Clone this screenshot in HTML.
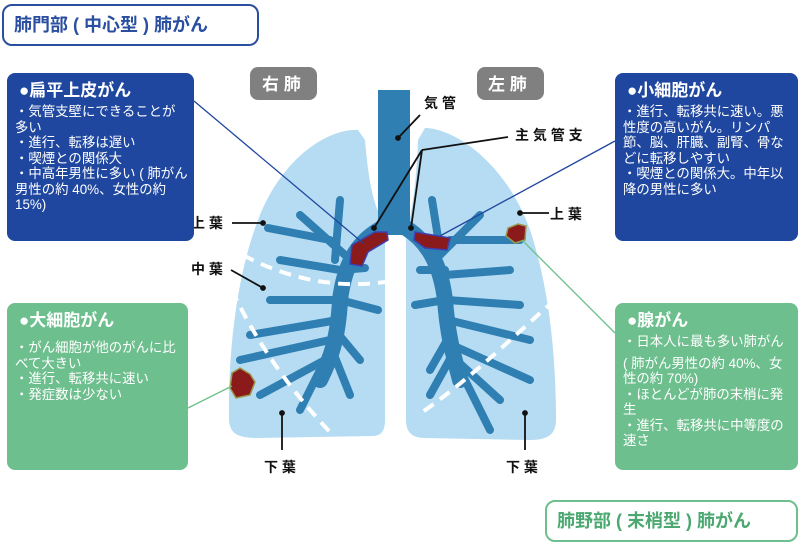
<!DOCTYPE html>
<html><head><meta charset="utf-8"><style>
body{margin:0;width:804px;height:545px;background:#fff;overflow:hidden;font-family:"Liberation Sans","Noto Sans CJK JP",sans-serif;position:relative}
.box{position:absolute;border-radius:8px;color:#fff;font-size:13.4px;line-height:15.5px;padding:8px 6px 8px 8px;box-sizing:border-box}
.box h3{margin:0 0 3px 4px;font-size:17px;line-height:20px}
.blue{background:#1f47a0}
.green{background:#6dbf8e}
.title{position:absolute;background:#fff;border-radius:10px;font-size:18px;font-weight:bold;box-sizing:border-box;padding-left:10px}
svg{position:absolute;left:0;top:0}
</style></head><body>
<div class="title" style="left:2px;top:4px;width:257px;height:42px;border:2px solid #2a4fa0;color:#2a4fa0;line-height:38px">肺門部 ( 中心型 ) 肺がん</div>
<div class="title" style="left:545px;top:500px;width:253px;height:42px;border:2px solid #6dbf8e;color:#4aa870;line-height:38px">肺野部 ( 末梢型 ) 肺がん</div>

<svg width="804" height="545" viewBox="0 0 804 545">
<g fill="#808080"><rect x="250" y="67" width="67" height="33" rx="8"/><rect x="477" y="67" width="67" height="33" rx="8"/></g>
<g fill="#fff" font-size="17" font-weight="bold" font-family="Liberation Sans,Noto Sans CJK JP,sans-serif"><text x="262" y="90">右 肺</text><text x="488" y="90">左 肺</text></g>
<path d="M358,130 C335,128 285,150 258,220 C235,280 228,360 229,420 C230,434 238,438 258,438 L372,436 C382,436 385,430 385,420 L385,225 C372,205 368,175 365,140 Z" fill="#b5dcf2"/>
<path d="M425,128 C452,128 505,160 530,230 C550,290 556,360 556,420 C556,434 548,440 530,440 L425,438 C410,438 406,430 406,420 L406,235 C414,205 417,170 418,140 Z" fill="#b5dcf2"/>
<rect x="378" y="90" width="32" height="145" fill="#2f7fb3"/>
<g stroke="#2f7fb3" fill="none" stroke-linecap="round">
<path d="M382,228 C360,240 345,260 340,300 C338,340 330,360 320,380" stroke-width="16"/>
<path d="M406,228 C425,240 440,260 445,300 C448,340 455,360 460,380" stroke-width="16"/>
<g stroke-width="8">
<path d="M345,255 L300,215 M330,240 L268,228 M340,270 L280,260 M335,300 L270,300 M338,320 L250,335 M330,340 L240,360 M325,360 L260,395 M335,330 L360,360 M340,300 L378,310 M340,270 L365,268 M335,260 L340,200 M320,370 L300,410 M330,345 L350,395"/>
<path d="M440,255 L480,215 M450,240 L520,240 M445,275 L510,270 M447,300 L520,305 M448,320 L530,340 M452,345 L530,380 M456,360 L500,400 M450,335 L430,370 M445,300 L415,305 M445,270 L420,270 M440,250 L432,200 M460,370 L490,430 M455,350 L430,395"/>
</g></g>
<g stroke="#fff" stroke-width="4" stroke-dasharray="12 8" fill="none">
<path d="M243,255 C280,275 330,290 385,282"/>
<path d="M232,290 C255,340 290,390 330,432"/>
<path d="M555,300 C520,330 470,380 418,415"/>
</g>
<path d="M352,245 L375,232 L387,232 L388,240 L368,252 L362,266 L350,264 Z" fill="#8b1a1a" stroke="#3f3fb0" stroke-width="1.5"/>
<path d="M415,232 L450,238 L447,250 L425,248 L414,240 Z" fill="#8b1a1a" stroke="#3f3fb0" stroke-width="1.5"/>
<path d="M508,228 L518,224 L526,226 L525,240 L515,243 L506,236 Z" fill="#8b1a1a" stroke="#9a9a50" stroke-width="1.5"/>
<path d="M232,373 L240,368 L250,374 L255,382 L250,395 L236,398 L230,388 Z" fill="#8b1a1a" stroke="#9a9a50" stroke-width="1.5"/>
<g stroke="#1f47a0" stroke-width="1.3"><line x1="194" y1="101" x2="363" y2="243"/><line x1="615" y1="141" x2="440" y2="236"/></g>
<g stroke="#6dbf8e" stroke-width="1.3"><line x1="188" y1="408" x2="232" y2="386"/><line x1="615" y1="333" x2="522" y2="240"/></g>
<g stroke="#111" stroke-width="1.8" fill="#111">
<line x1="398" y1="138" x2="420" y2="115"/><circle cx="398" cy="138" r="2"/>
<line x1="374" y1="228" x2="422" y2="150"/><line x1="411" y1="228" x2="422" y2="150"/><line x1="422" y1="150" x2="508" y2="137"/><circle cx="374" cy="228" r="2"/><circle cx="411" cy="228" r="2"/>
<line x1="232" y1="223" x2="263" y2="223"/><circle cx="263" cy="223" r="2"/>
<line x1="231" y1="270" x2="263" y2="288"/><circle cx="263" cy="288" r="2"/>
<line x1="282" y1="413" x2="282" y2="450"/><circle cx="282" cy="413" r="2"/>
<line x1="520" y1="213" x2="549" y2="213"/><circle cx="520" cy="213" r="2"/>
<line x1="525" y1="413" x2="525" y2="450"/><circle cx="525" cy="413" r="2"/>
</g>
<g fill="#111" font-size="14" font-weight="bold" font-family="Liberation Sans,Noto Sans CJK JP,sans-serif">
<text x="424" y="108">気 管</text>
<text x="515" y="140">主 気 管 支</text>
<text x="191" y="228">上 葉</text>
<text x="191" y="274">中 葉</text>
<text x="264" y="472">下 葉</text>
<text x="550" y="219">上 葉</text>
<text x="506" y="472">下 葉</text>
</g>
</svg>

<div class="box blue" style="left:7px;top:73px;width:187px;height:168px"><h3>●扁平上皮がん</h3>・気管支壁にできることが多い<br>・進行、転移は遅い<br>・喫煙との関係大<br>・中高年男性に多い ( 肺がん男性の約 40%、女性の約 15%)</div>
<div class="box green" style="left:7px;top:303px;width:181px;height:167px"><h3>●大細胞がん</h3><div style="height:6px"></div>・がん細胞が他のがんに比べて大きい<br>・進行、転移共に速い<br>・発症数は少ない</div>
<div class="box blue" style="left:615px;top:73px;width:183px;height:168px"><h3>●小細胞がん</h3>・進行、転移共に速い。悪性度の高いがん。リンパ節、脳、肝臓、副腎、骨などに転移しやすい<br>・喫煙との関係大。中年以降の男性に多い</div>
<div class="box green" style="left:615px;top:303px;width:183px;height:167px"><h3>●腺がん</h3>・日本人に最も多い肺がん<br><div style="height:6px"></div>( 肺がん男性の約 40%、女性の約 70%)<br>・ほとんどが肺の末梢に発生<br>・進行、転移共に中等度の速さ</div>
</body></html>
